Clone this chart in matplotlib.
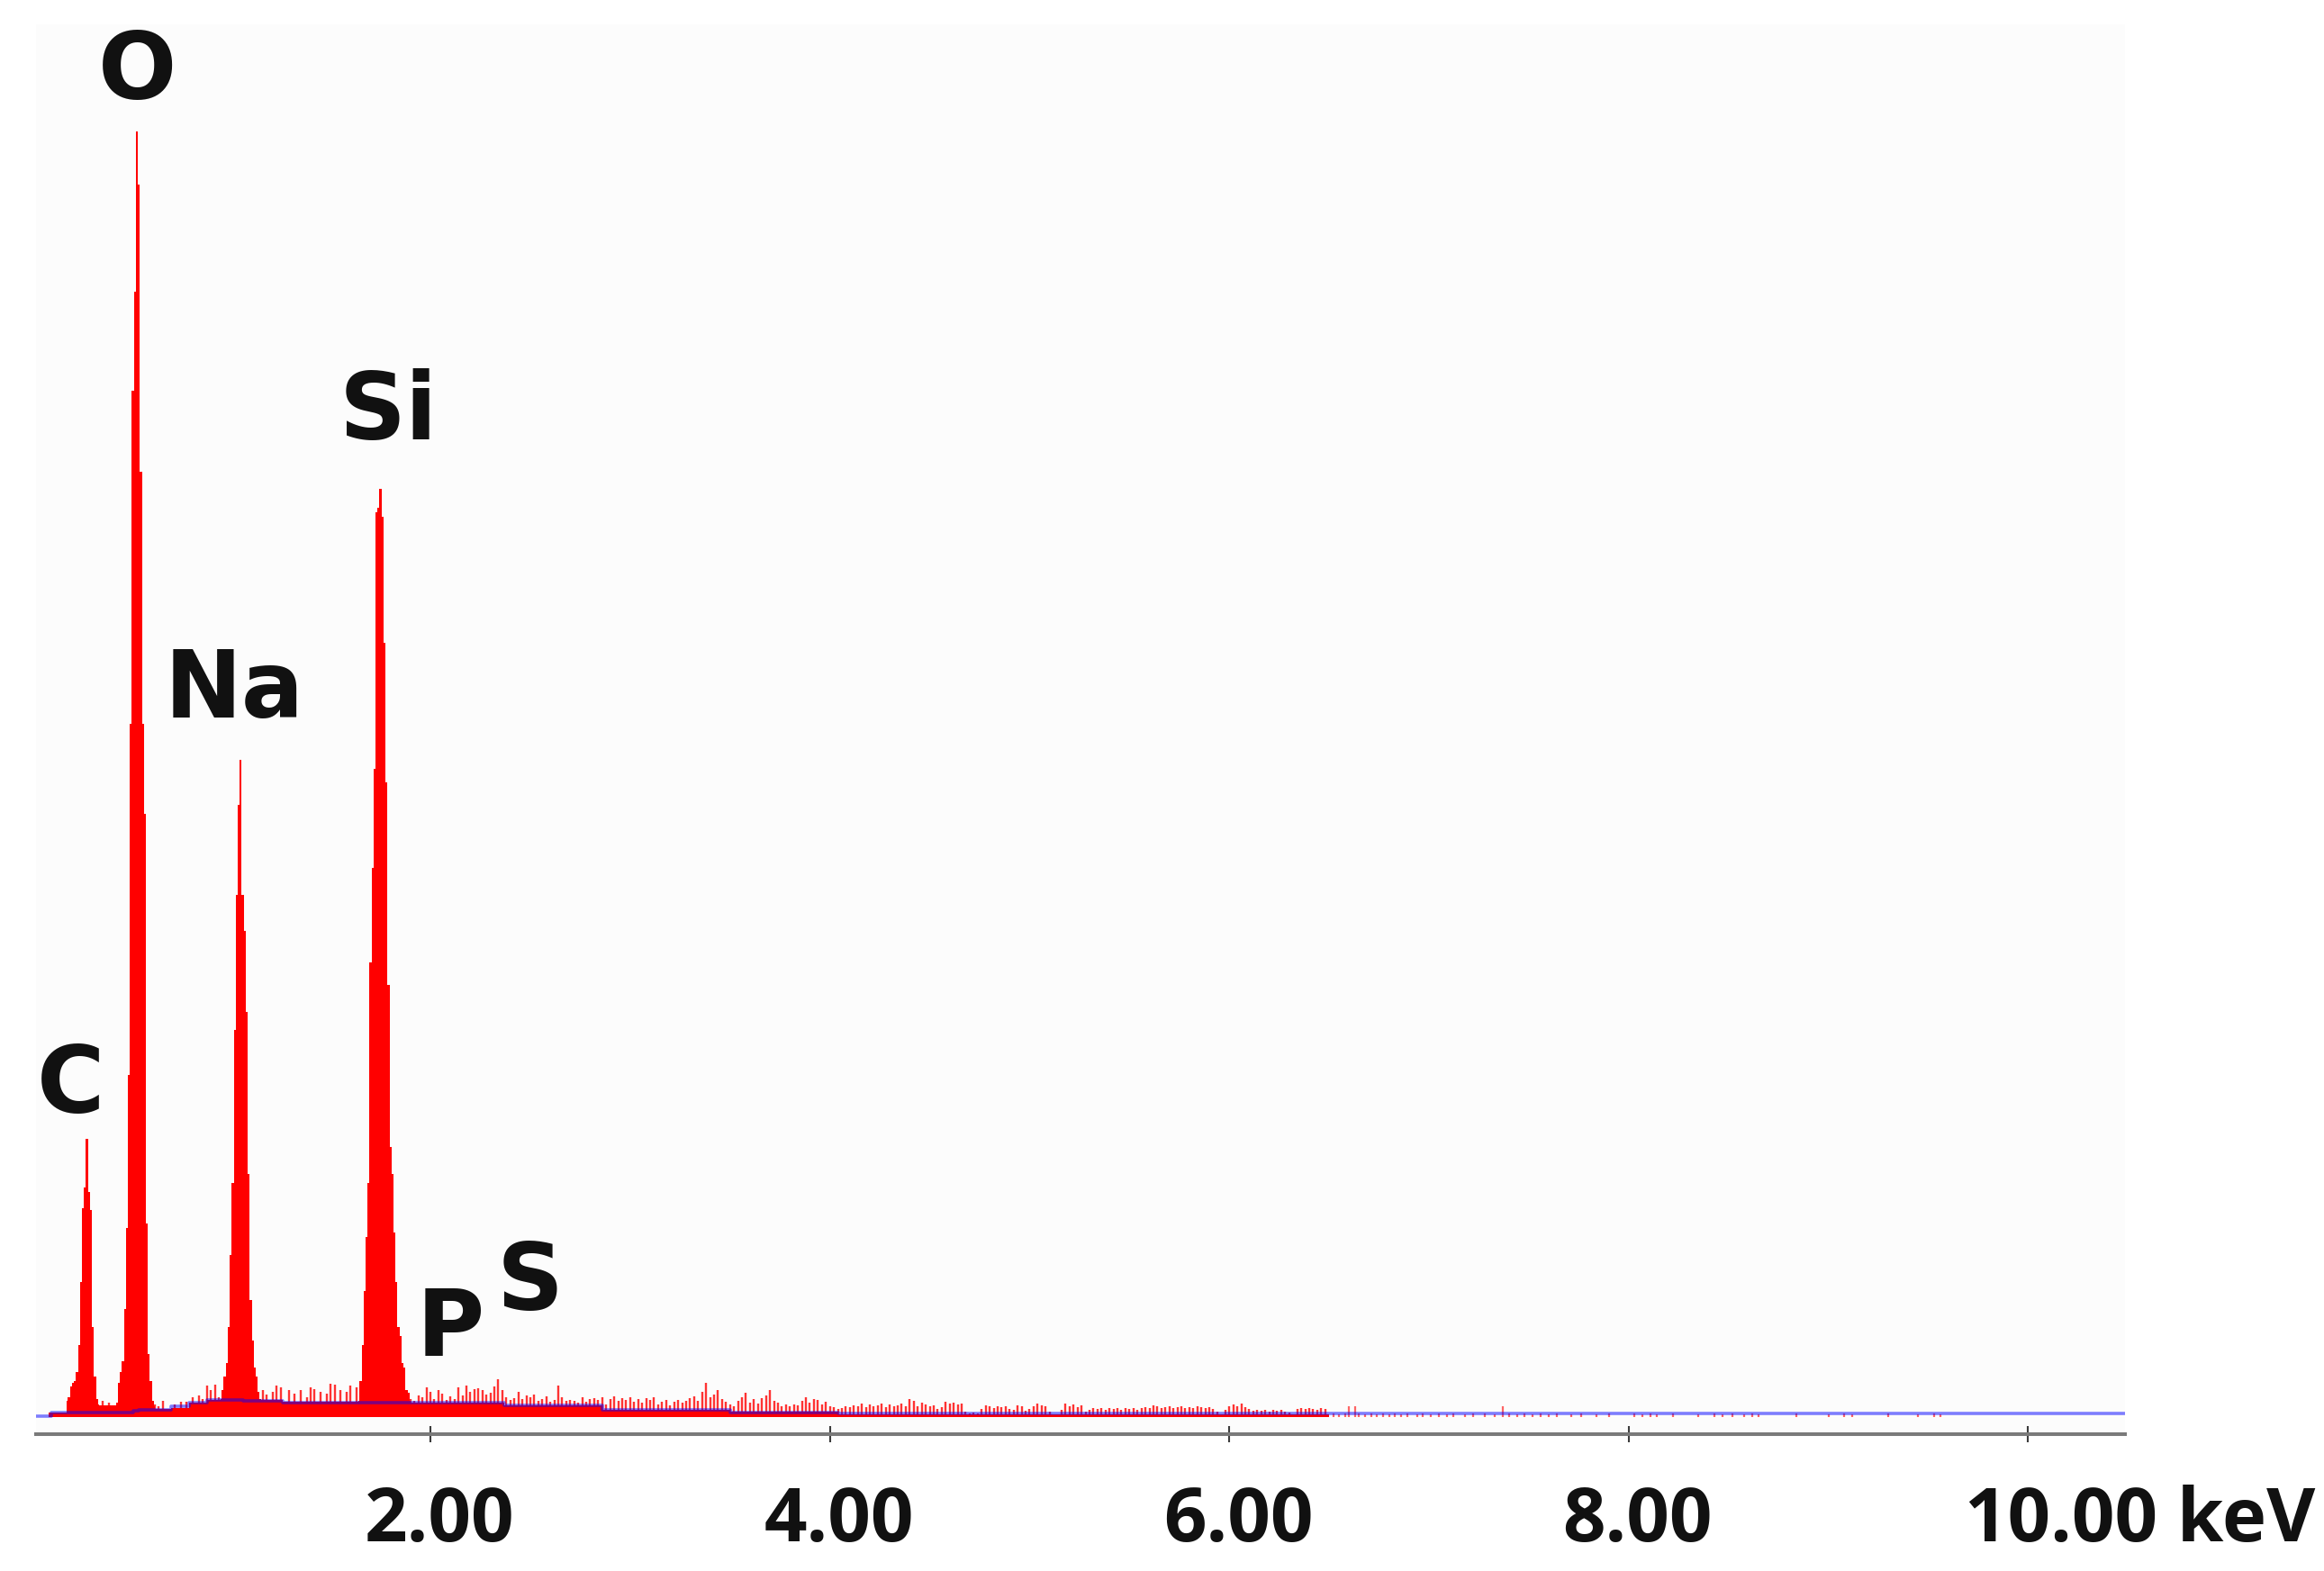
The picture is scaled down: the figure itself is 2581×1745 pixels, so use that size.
import numpy as np
import matplotlib.pyplot as plt
from matplotlib.transforms import ScaledTranslation

# EDS spectrum (counts in arbitrary units, 0 = spectrum baseline)
BIN = 0.01  # keV per channel inside the peak profiles

# peak profiles: energy of first channel + counts per channel
c_start = 0.18
c_counts = [18, 22, 34, 38, 40, 50, 80, 150, 232, 255, 309, 250, 230, 100, 45, 20, 14]
o_start = 0.42
o_counts = [12, 16, 38, 50, 62, 120, 210, 380, 770, 1140, 1250, 1428, 1369, 1050, 770,
            670, 215, 70, 40, 18, 12]
na_start = 0.95
na_counts = [20, 30, 45, 60, 100, 180, 260, 430, 580, 680, 730, 580, 540, 450, 270,
             130, 85, 55, 45, 28, 20]
si_start = 1.64
si_counts = [18, 40, 80, 140, 200, 260, 505, 610, 720, 1005, 1010, 1031, 1000, 860, 705,
             480, 300, 270, 205, 150, 100, 90, 60, 55, 30, 27, 18]

# continuum (solid red part under the noise)
cont_keV = [0.09, 0.33, 0.60, 0.70, 0.79, 0.88, 1.12, 1.26, 1.90, 2.37, 2.86, 3.50, 4.04, 6.50, 10.48]
cont_counts = [5, 13, 9, 10, 16, 19, 19, 17, 16, 13, 8.5, 6, 3, 0, 0]

# fitted background (blue line)
bg_keV = [0.02, 0.10, 0.51, 0.54, 0.70, 0.79, 0.88, 1.06, 1.26, 2.37, 2.86, 3.50, 4.04, 10.48]
bg_counts = [1, 5, 7.5, 8.5, 12, 16, 19.5, 18.5, 16, 13, 8, 5.5, 4.5, 4.5]

# noise spikes between the low energy peaks
lo_spike_keV = [0.36, 0.39, 0.62, 0.64, 0.66, 0.72, 0.75, 0.78, 0.81, 0.84, 0.86, 0.88,
                0.90, 0.92, 0.94, 1.16, 1.18, 1.21, 1.23, 1.25, 1.29, 1.32, 1.35, 1.38,
                1.40, 1.42, 1.45, 1.48, 1.50, 1.52, 1.55, 1.58, 1.60, 1.63]
lo_spike_counts = [18, 16, 14, 12, 18, 14, 17, 17, 22, 24, 20, 35, 30, 36, 22, 30, 25,
                   28, 35, 33, 30, 26, 30, 22, 33, 31, 28, 26, 37, 36, 30, 28, 35, 33]

# noise from 1.90 keV on, one value every 0.02 keV
NOISE_START = 1.90
NOISE_STEP = 0.02
noise_counts = [
    20, 18, 24, 22, 33, 28, 20, 30, 26, 19,
    23, 20, 33, 24, 35, 28, 31, 32, 30, 25,
    27, 34, 42, 30, 22, 19, 21, 28, 20, 24,
    22, 25, 18, 20, 23, 17, 19, 35, 22, 18,
    19, 18, 16, 22, 17, 20, 21, 19, 22, 14,
    20, 23, 18, 21, 19, 22, 17, 20, 16, 21,
    19, 22, 14, 17, 19, 13, 17, 19, 16, 18,
    21, 23, 18, 28, 38, 22, 25, 30, 20, 17,
    14, 12, 18, 22, 27, 16, 20, 15, 21, 24,
    30, 18, 16, 12, 14, 12, 14, 13, 18, 22,
    16, 20, 19, 14, 17, 12, 11, 9, 10, 12,
    11,
    13, 12, 15, 11, 14, 12, 13, 15, 11, 14,
    12, 13, 15, 12, 20, 18, 12, 16, 14, 12,
    13, 9, 11, 17, 15, 16, 14, 15, 6, 4,
    5, 4, 9, 13, 12, 10, 12, 11, 12, 9,
    8, 13, 12, 7, 9, 12, 15, 13, 12, 6,
    0, 0, 8, 15, 12, 14, 11, 13, 6, 8,
    10, 9, 10, 8, 10, 9, 10, 8, 10, 9,
    10, 8, 10, 11, 10, 13, 12, 10, 11, 12,
    10, 11, 12, 10, 11, 10, 12, 11, 10, 11,
    9, 6, 0, 8, 12, 14, 12, 15, 11, 9,
    7, 8, 7, 8, 6, 8, 7, 8, 6, 5,
    0, 9, 10, 9, 10, 9, 8, 10, 9,
]

# sparse counts at high energy
dot_keV = [6.52, 6.55, 6.58, 6.60, 6.63, 6.65, 6.68, 6.71, 6.74, 6.77,
           6.80, 6.83, 6.86, 6.89, 6.94, 6.97, 7.01, 7.05, 7.09, 7.12,
           7.18, 7.22, 7.28, 7.33, 7.37, 7.40, 7.44, 7.48, 7.52, 7.56,
           7.60, 7.64, 7.71, 7.76, 7.84, 7.90, 8.03, 8.07, 8.11, 8.14,
           8.22, 8.35, 8.43, 8.47, 8.52, 8.58, 8.62, 8.65, 8.84, 9.00,
           9.08, 9.12, 9.30, 9.45, 9.53, 9.56]
dot_counts = [4, 3, 4, 12, 12, 4, 3, 4, 3, 4,
              3, 4, 3, 4, 3, 4, 3, 4, 3, 4,
              3, 4, 4, 3, 12, 4, 3, 4, 3, 4,
              3, 4, 3, 4, 3, 4, 4, 3, 4, 3,
              4, 3, 4, 3, 4, 3, 4, 3, 4, 3,
              4, 3, 4, 3, 4, 3]

# element labels and where their baselines sit (keV, counts)
elements = ["O", "Si", "Na", "C", "P", "S"]
label_pos = [(0.53, 1464), (1.79, 1086), (1.02, 777), (0.20, 338), (2.10, 68), (2.50, 119)]

tick_keV = [2, 4, 6, 8, 10]
tick_text = ["2.00", "4.00", "6.00", "8.00", "10.00 keV"]

plt.rcParams['font.family'] = ['Open Sans', 'DejaVu Sans']

W, H = 2581, 1745
fig = plt.figure(figsize=(W / 100, H / 100), dpi=100)
fig.patch.set_facecolor('white')
ax = fig.add_axes([40 / W, 152 / H, 2320 / W, 1566 / H])
ax.set_facecolor('#fcfcfc')
ax.set_xlim(0.025, 10.485)
ax.set_ylim(-19, 1547)

RED = '#ff0000'

# continuum
ax.fill_between(cont_keV, cont_counts, step='post', color=RED, lw=0, zorder=1)

# noise
noise_keV = NOISE_START + NOISE_STEP * np.arange(len(noise_counts))
ax.vlines(noise_keV, 0, noise_counts, colors=RED, lw=1.7, alpha=0.8, zorder=2)
ax.vlines(lo_spike_keV, 0, lo_spike_counts, colors=RED, lw=1.7, alpha=0.8, zorder=2)
ax.vlines(dot_keV, 0, dot_counts, colors=RED, lw=1.6, alpha=0.6, zorder=2)

# peaks
for start, counts in [(c_start, c_counts), (o_start, o_counts),
                      (na_start, na_counts), (si_start, si_counts)]:
    e = start + BIN * np.arange(len(counts))
    ax.fill_between(e, counts, step='mid', color=RED, lw=0, zorder=3)

# background fit
ax.step(bg_keV, bg_counts, where='post', color='blue', alpha=0.5, lw=2.6, zorder=4)

for name, (x, y) in zip(elements, label_pos):
    ax.text(x, y, name, fontsize=74, fontweight='bold', color='#111111',
            family='DejaVu Sans', ha='center', va='baseline', zorder=5)

# axis styling
for side in ['top', 'left', 'right']:
    ax.spines[side].set_visible(False)
ax.spines['bottom'].set_color('#7a7a7a')
ax.spines['bottom'].set_linewidth(2.9)
ax.set_yticks([])
ax.tick_params(axis='x', direction='inout', length=13, width=1.5, color='#3c3c3c',
               pad=34, labelsize=60, labelcolor='#111111')
ax.set_xticks(tick_keV)
ax.set_xticklabels(tick_text, fontweight='bold')

ticks = ax.xaxis.get_major_ticks()
for t in ticks[:-1]:
    t.label1.set_transform(t.label1.get_transform() +
                           ScaledTranslation(0.10, 0, fig.dpi_scale_trans))
last = ticks[-1].label1
last.set_horizontalalignment('left')
last.set_transform(last.get_transform() + ScaledTranslation(-0.70, 0, fig.dpi_scale_trans))

fig.savefig('out.png', dpi=100, facecolor='white')
